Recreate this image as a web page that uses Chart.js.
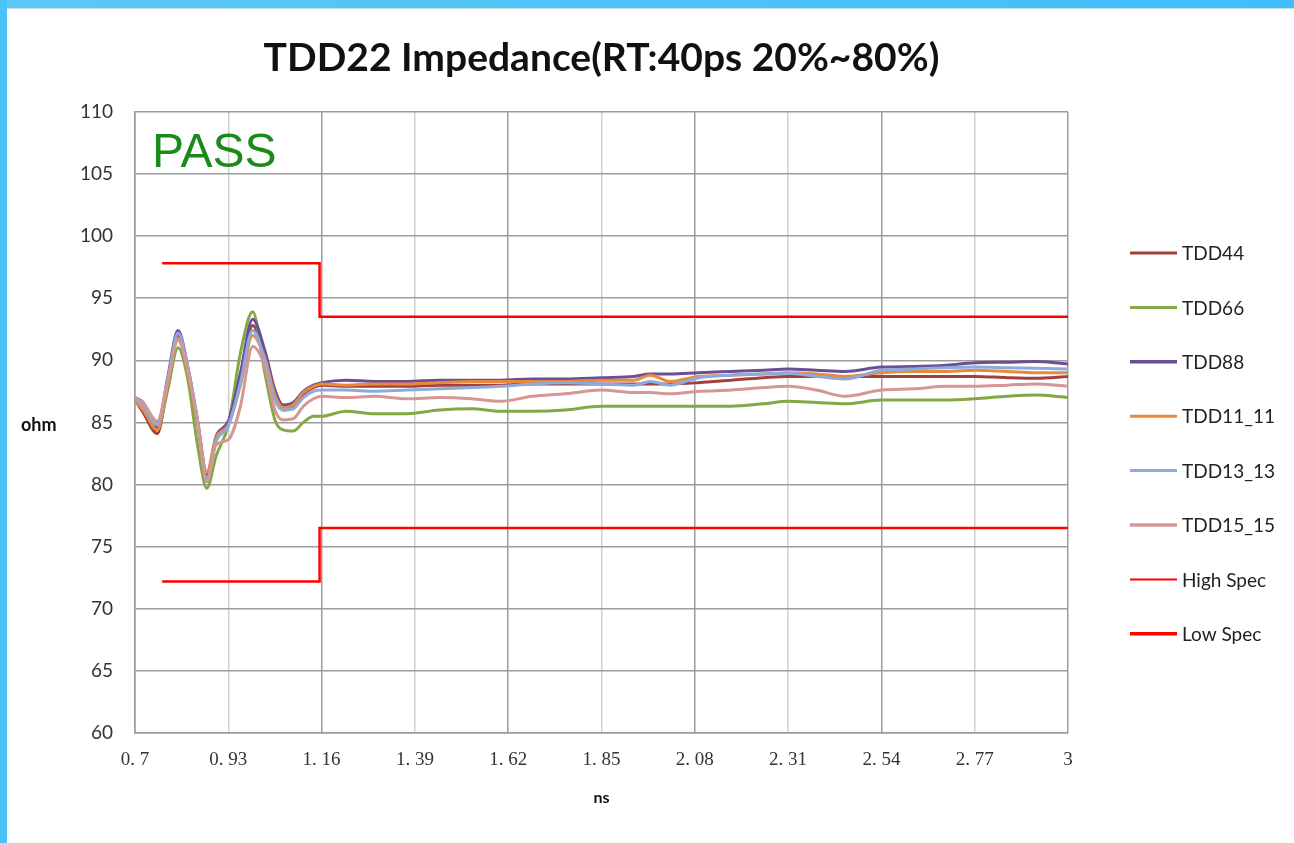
<!DOCTYPE html>
<html>
<head>
<meta charset="utf-8">
<title>TDD22 Impedance</title>
<script src="https://cdn.jsdelivr.net/npm/chart.js@4.4.1/dist/chart.umd.min.js"></script>
<style>
  html, body { margin: 0; padding: 0; background: #fff; }
  #wrap { position: relative; width: 1294px; height: 843px; overflow: hidden; }
  #chart { position: absolute; left: 0; top: 0; }
  .bar-top { position: absolute; left: 0; top: 0; width: 1294px; height: 8px; background: linear-gradient(to right, #5cc8f4, #3fbffb); border-bottom: 1px solid #c4dde8; }
  .bar-left { position: absolute; left: 0; top: 0; width: 7px; height: 843px; background: #4cc3f8; }
</style>
</head>
<body>
<div id="wrap">
  <canvas id="chart" width="1294" height="843"></canvas>
  <div class="bar-top"></div>
  <div class="bar-left"></div>
</div>
<script>
// === DATA ===
const timeNs = [0.70, 0.72, 0.755, 0.78, 0.806, 0.83, 0.855, 0.877, 0.90, 0.93, 0.96, 0.99, 1.02, 1.045, 1.065, 1.09, 1.115, 1.14, 1.16,
    1.22, 1.29, 1.37, 1.45, 1.53, 1.60, 1.68, 1.76, 1.85, 1.93, 1.97, 2.02, 2.09, 2.17, 2.25, 2.31, 2.38, 2.45, 2.54, 2.62, 2.70, 2.77, 2.85, 2.92, 3.00];

const tdd44 = [86.8, 85.8, 84.1, 88.0, 92.0, 89.3, 84.8, 80.5, 83.6, 84.8, 88.3, 92.8, 90.3, 87.2, 86.0, 86.2, 87.3, 87.8, 88.0,
    87.9, 87.9, 87.9, 88.0, 88.0, 88.0, 88.1, 88.1, 88.1, 88.1, 88.1, 88.1, 88.2, 88.4, 88.6, 88.7, 88.7, 88.7, 88.7, 88.7, 88.7, 88.7, 88.6, 88.55, 88.7];
const tdd66 = [87.0, 86.2, 84.4, 87.5, 91.0, 88.5, 83.0, 79.7, 82.3, 84.8, 90.6, 93.9, 89.0, 85.2, 84.4, 84.3, 85.0, 85.5, 85.5,
    85.9, 85.7, 85.7, 86.0, 86.1, 85.9, 85.9, 86.0, 86.3, 86.3, 86.3, 86.3, 86.3, 86.3, 86.5, 86.7, 86.6, 86.5, 86.8, 86.8, 86.8, 86.9, 87.1, 87.2, 87.0];
const tdd88 = [87.0, 86.6, 84.6, 88.5, 92.4, 89.5, 85.0, 80.8, 83.9, 85.1, 89.0, 93.3, 90.8, 87.6, 86.4, 86.6, 87.5, 88.0, 88.2,
    88.4, 88.3, 88.3, 88.4, 88.4, 88.4, 88.5, 88.5, 88.6, 88.7, 88.9, 88.9, 89.0, 89.1, 89.2, 89.3, 89.2, 89.1, 89.45, 89.5, 89.6, 89.8, 89.85, 89.9, 89.7];
const tdd11_11 = [86.7, 86.0, 84.4, 88.0, 91.8, 89.2, 84.8, 81.0, 83.8, 84.8, 88.0, 92.0, 90.2, 87.2, 86.2, 86.4, 87.4, 87.9, 88.1,
    88.0, 88.1, 88.1, 88.2, 88.3, 88.3, 88.3, 88.3, 88.4, 88.4, 88.8, 88.3, 88.7, 88.8, 88.9, 89.0, 88.9, 88.7, 89.0, 89.1, 89.1, 89.2, 89.1, 89.0, 89.0];
const tdd13_13 = [86.9, 86.3, 84.8, 88.3, 92.2, 89.5, 85.0, 80.5, 83.5, 84.7, 88.2, 92.4, 90.0, 86.8, 86.0, 86.1, 87.0, 87.5, 87.6,
    87.6, 87.5, 87.6, 87.7, 87.8, 87.9, 88.1, 88.2, 88.1, 88.0, 88.3, 88.0, 88.6, 88.8, 88.9, 88.95, 88.7, 88.5, 89.2, 89.3, 89.4, 89.45, 89.4, 89.35, 89.3];
const tdd15_15 = [87.0, 86.6, 85.1, 88.2, 91.6, 89.2, 84.8, 80.2, 83.2, 83.6, 86.3, 91.1, 89.5, 86.0, 85.2, 85.3, 86.3, 86.9, 87.1,
    87.0, 87.1, 86.9, 87.0, 86.9, 86.7, 87.1, 87.3, 87.6, 87.4, 87.4, 87.3, 87.5, 87.6, 87.8, 87.9, 87.6, 87.1, 87.6, 87.7, 87.9, 87.9, 88.0, 88.1, 87.9];

const specTime = [0.767, 1.155, 1.155, 3.00];
const highSpec = [97.8, 97.8, 93.5, 93.5];
const lowSpec = [72.2, 72.2, 76.5, 76.5];

const xTickLabels = ["0. 7", "0. 93", "1. 16", "1. 39", "1. 62", "1. 85", "2. 08", "2. 31", "2. 54", "2. 77", "3"];

const seriesNames = ["TDD44", "TDD66", "TDD88", "TDD11_11", "TDD13_13", "TDD15_15", "High Spec", "Low Spec"];
const seriesColors = ["#a3403c", "#83a845", "#6b4e96", "#e8893c", "#8eaadc", "#d69693", "#ff0000", "#ff0000"];

function toPoints(xs, ys) {
    return xs.map((x, i) => ({ x: x, y: ys[i] }));
}

const curveValues = [tdd44, tdd66, tdd88, tdd11_11, tdd13_13, tdd15_15];
const datasets = curveValues.map((vals, i) => ({
    label: seriesNames[i],
    data: toPoints(timeNs, vals),
    borderColor: seriesColors[i],
    backgroundColor: seriesColors[i],
    borderWidth: 3,
    pointRadius: 0,
    cubicInterpolationMode: "monotone",
    order: 10 - i
}));
datasets.push({
    label: seriesNames[6], data: toPoints(specTime, highSpec),
    borderColor: seriesColors[6], backgroundColor: seriesColors[6],
    borderWidth: 2.5, pointRadius: 0, tension: 0, order: 2
});
datasets.push({
    label: seriesNames[7], data: toPoints(specTime, lowSpec),
    borderColor: seriesColors[7], backgroundColor: seriesColors[7],
    borderWidth: 2.5, pointRadius: 0, tension: 0, order: 1
});

// legend line thickness per entry (px)
const legendLineWidth = [3, 3, 3.5, 3, 3, 3.5, 2, 3.5];

// === EXTRA TEXT + LEGEND ===
const extrasPlugin = {
    id: "extras",
    afterDraw(chart) {
        const ctx = chart.ctx;
        ctx.save();
        // PASS stamp
        ctx.fillStyle = "#1a8a1a";
        ctx.font = "48px 'Liberation Sans', Arial, sans-serif";
        ctx.textBaseline = "alphabetic";
        ctx.textAlign = "left";
        ctx.fillText("PASS", 152, 167);
        // y axis unit
        ctx.fillStyle = "#111";
        ctx.font = "bold 18px Lato, sans-serif";
        ctx.textBaseline = "middle";
        ctx.fillText("ohm", 21, 425);
        // legend
        chart.data.datasets.forEach((ds, i) => {
            const y = 253 + i * 54.4;
            ctx.strokeStyle = ds.borderColor;
            ctx.lineWidth = legendLineWidth[i];
            ctx.beginPath();
            ctx.moveTo(1130, y);
            ctx.lineTo(1177, y);
            ctx.stroke();
            ctx.fillStyle = "#222";
            ctx.font = "19px Lato, sans-serif";
            ctx.fillText(ds.label, 1182, y + 1);
        });
        ctx.restore();
    }
};

new Chart(document.getElementById("chart").getContext("2d"), {
    type: "line",
    data: { datasets: datasets },
    options: {
        responsive: false,
        animation: false,
        layout: { padding: { left: 0, right: 226, top: 0, bottom: 0 } },
        plugins: {
            legend: { display: false },
            tooltip: { enabled: false },
            title: {
                display: true,
                fullSize: false,
                text: "TDD22 Impedance(RT:40ps 20%~80%)",
                color: "#111",
                font: { family: "Lato, sans-serif", size: 39, weight: "bold", lineHeight: 1.2 },
                padding: { top: 35, bottom: 30 }
            }
        },
        scales: {
            x: {
                type: "linear",
                min: 0.7,
                max: 3,
                afterFit: s => { s.height = 110; },
                grid: {
                    drawTicks: false,
                    color: c => (c.index % 2 === 1 ? "#cfcfcf" : "#9c9c9c"),
                    lineWidth: 1.5
                },
                border: { color: "#9c9c9c", width: 1.5 },
                ticks: {
                    stepSize: 0.23,
                    padding: 16,
                    color: "#333",
                    font: { family: "'Liberation Serif', serif", size: 19 },
                    callback: (v, i) => xTickLabels[i]
                },
                title: {
                    display: true,
                    text: "ns",
                    color: "#111",
                    font: { family: "Lato, sans-serif", size: 16, weight: "bold" },
                    padding: { top: 0, bottom: 36 }
                }
            },
            y: {
                min: 60,
                max: 110,
                afterFit: s => { s.width = 135; },
                grid: { drawTicks: false, color: "#9c9c9c", lineWidth: 1.5 },
                border: { color: "#9c9c9c", width: 1.5 },
                ticks: {
                    stepSize: 5,
                    padding: 22,
                    color: "#333",
                    font: { family: "Lato, sans-serif", size: 19 }
                }
            }
        }
    },
    plugins: [extrasPlugin]
});
</script>
</body>
</html>
